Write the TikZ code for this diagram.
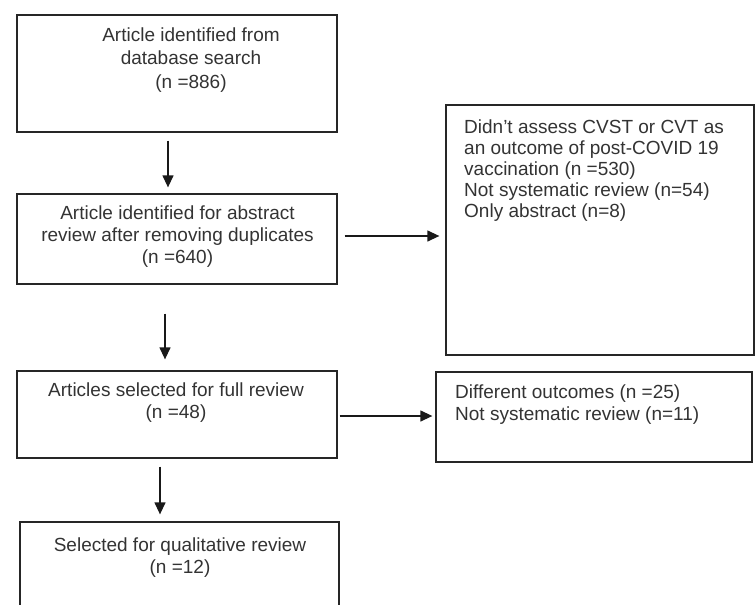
\documentclass[tikz,border=0pt]{standalone}
\usepackage{fontspec}
\setmainfont{Liberation Sans}
\usetikzlibrary{arrows.meta}

\begin{document}
\begin{tikzpicture}[x=1pt,y=-1pt,
        box/.style={draw=black!85, line width=1.3pt, rectangle, inner sep=0pt},
        txt/.style={inner sep=0pt, text=black!80, font=\fontsize{19}{22}\selectfont},
        flow/.style={draw=black!90, line width=1.3pt, -{Triangle[length=12pt,width=11pt]}}]
  \useasboundingbox (0,0) rectangle (755,605);
  \clip             (0,0) rectangle (755,605);

  % left column
  \node[box,minimum width=320pt,minimum height=117pt] (ident)  at (177,  73.5) {};
  \node[box,minimum width=320pt,minimum height=90pt ] (abstr)  at (177, 239  ) {};
  \node[box,minimum width=320pt,minimum height=87pt ] (full)   at (177, 414.5) {};
  \node[box,minimum width=319pt,minimum height=120pt] (qual)   at (179.5,582 ) {};

  % right column
  \node[box,minimum width=308pt,minimum height=250pt] (excla)  at (600, 230  ) {};
  \node[box,minimum width=316pt,minimum height=90pt ] (exclb)  at (594, 417  ) {};

  % texts
  \node[txt,align=center,font=\fontsize{19}{23.5}\selectfont] (ident-t) at (191,  60)
       {Article identified from\\database search\\(n =886)};
  \node[txt,align=center] (abstr-t) at (177.5,237)
       {Article identified for abstract\\review after removing duplicates\\(n =640)};
  \node[txt,align=center] (full-t)  at (176,  403)
       {Articles selected for full review\\(n =48)};
  \node[txt,align=center] (qual-t)  at (180,  557.5)
       {Selected for qualitative review\\(n =12)};
  \node[txt,align=left,anchor=west,font=\fontsize{19}{21}\selectfont] (excla-t) at (464,170.5)
       {Didn't assess CVST or CVT as\\an outcome of post-COVID 19\\vaccination (n =530)\\Not systematic review (n=54)\\Only abstract (n=8)};
  \node[txt,align=left,anchor=west] (exclb-t) at (455,404.5)
       {Different outcomes (n =25)\\Not systematic review (n=11)};

  % arrows
  \draw[flow,shorten <=8pt, shorten >=6pt ] ([xshift=-9pt ]ident.south) -- ([xshift=-9pt ]ident.south |- abstr.north);
  \draw[flow,shorten <=29pt,shorten >=11pt] ([xshift=-12pt]abstr.south) -- ([xshift=-12pt]abstr.south |- full.north);
  \draw[flow,shorten <=8pt, shorten >=7pt ] ([xshift=-17pt]full.south)  -- ([xshift=-17pt]full.south  |- qual.north);
  \draw[flow,shorten <=7pt, shorten >=6pt ] ([yshift=3pt   ]abstr.east) -- ([yshift=3pt   ]abstr.east -| excla.west);
  \draw[flow,shorten <=2pt, shorten >=3pt ] ([yshift=-1.5pt]full.east)  -- ([yshift=-1.5pt]full.east  -| exclb.west);
\end{tikzpicture}
\end{document}
